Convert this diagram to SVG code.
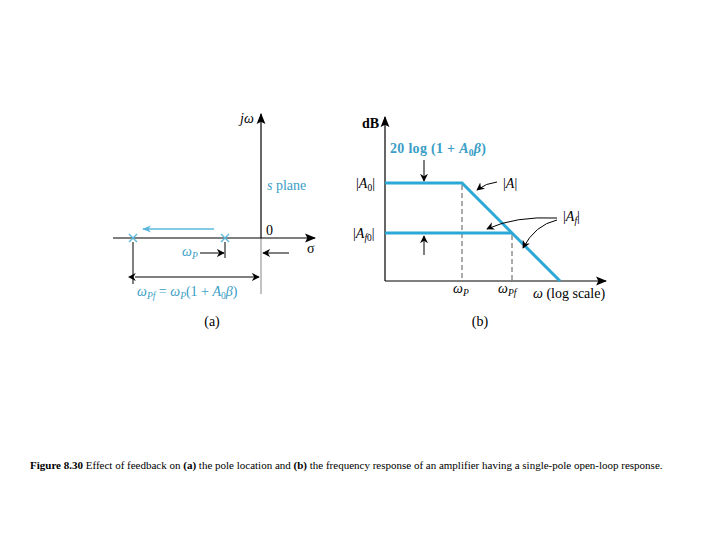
<svg xmlns="http://www.w3.org/2000/svg" width="720" height="540" viewBox="0 0 720 540">
<style>
.ax{stroke:#000;stroke-width:1.2;fill:none}
.gr{stroke:#999;stroke-width:1.2;fill:none}
.cy{stroke:#2ba8d6;stroke-width:3;fill:none}
.cyt{stroke:#5ab8dc;stroke-width:1.3;fill:none}
.th{stroke:#000;stroke-width:1;fill:none}
.ds{stroke:#444;stroke-width:0.9;stroke-dasharray:5,3;fill:none}
.t{font-family:"Liberation Serif","Times New Roman",serif;font-size:14px;fill:#000}
.c{fill:#3a9ec6}
.i{font-style:italic}
.s{font-size:9.5px}
.cap{font-family:"Liberation Serif","Times New Roman",serif;font-size:11px;fill:#000}
</style>
<defs>
<marker id="ah" viewBox="0 0 10 10" refX="9" refY="5" markerWidth="8" markerHeight="8" markerUnits="userSpaceOnUse" orient="auto"><path d="M0,0 L10,5 L0,10 L3,5 Z" fill="#000"/></marker>
<marker id="ahb" viewBox="0 0 10 10" refX="9" refY="5" markerWidth="11" markerHeight="11" markerUnits="userSpaceOnUse" orient="auto"><path d="M0,1 L10,5 L0,9 L2,5 Z" fill="#000"/></marker>
<marker id="ahs" viewBox="0 0 10 10" refX="1" refY="5" markerWidth="8" markerHeight="8" markerUnits="userSpaceOnUse" orient="auto-start-reverse"><path d="M0,0 L10,5 L0,10 L3,5 Z" fill="#000"/></marker>
<marker id="ahc" viewBox="0 0 10 10" refX="9" refY="5" markerWidth="9" markerHeight="9" markerUnits="userSpaceOnUse" orient="auto"><path d="M0,1 L10,5 L0,9 L3,5 Z" fill="#5ab8dc"/></marker>
</defs>

<g id="panel-a">
  <g id="axes-a">
    <line class="gr" x1="261" y1="238" x2="261" y2="294"/>
    <line class="ax" x1="261" y1="238" x2="261" y2="114" marker-end="url(#ahb)"/>
    <line class="ax" x1="113" y1="238" x2="315" y2="238" marker-end="url(#ahb)"/>
    <text class="t i" x="240" y="123" font-size="12">jω</text>
    <text class="t" x="266" y="235">0</text>
    <text class="t" x="307" y="253">σ</text>
    <text class="t c" x="267" y="190"><tspan class="i">s</tspan> plane</text>
  </g>
  <g id="poles">
    <path class="cyt" d="M129,234 L137,242 M137,234 L129,242"/>
    <path class="cyt" d="M221,234 L229,242 M229,234 L221,242"/>
  </g>
  <g id="connectors-a">
    <line class="cyt" x1="214" y1="229" x2="143" y2="229" marker-end="url(#ahc)"/>
    <line class="th" x1="225" y1="242" x2="225" y2="258"/>
    <line class="th" x1="200" y1="253" x2="224" y2="253" marker-end="url(#ah)"/>
    <line class="th" x1="289" y1="253" x2="263" y2="253" marker-end="url(#ah)"/>
    <line class="th" x1="133" y1="242" x2="133" y2="284"/>
    <line class="th" x1="135" y1="277" x2="259" y2="277" marker-start="url(#ahs)" marker-end="url(#ah)"/>
  </g>
  <text class="t c i" x="182" y="256">ω<tspan class="s" dy="3">P</tspan></text>
  <text class="t c" x="137" y="296"><tspan class="i">ω</tspan><tspan class="s i" dy="3">Pf</tspan><tspan dy="-3"> = </tspan><tspan class="i">ω</tspan><tspan class="s i" dy="3">P</tspan><tspan dy="-3">(1 + </tspan><tspan class="i">A</tspan><tspan class="s" dy="3">0</tspan><tspan class="i" dy="-3">β</tspan>)</text>
  <text class="t" x="212" y="326" text-anchor="middle">(a)</text>
</g>

<g id="panel-b">
  <g id="axes-b">
    <line class="ax" x1="385" y1="281" x2="385" y2="117" marker-end="url(#ahb)"/>
    <line class="ax" x1="385" y1="281" x2="606" y2="281" marker-end="url(#ahb)"/>
    <text class="t" x="362" y="128" font-weight="bold" font-size="13">dB</text>
    <text class="t" x="533" y="298"><tspan class="i">ω</tspan> (log scale)</text>
    <text class="t i" x="453" y="293">ω<tspan class="s" dy="3">P</tspan></text>
    <text class="t i" x="498" y="293">ω<tspan class="s" dy="3">Pf</tspan></text>
  </g>
  <g id="guides">
    <line class="ds" x1="462" y1="185" x2="462" y2="281"/>
    <line class="ds" x1="512" y1="235" x2="512" y2="281"/>
  </g>
  <g id="curve-A">
    <polyline class="cy" points="385,183 462,183 560,281"/>
  </g>
  <g id="curve-Af">
    <line class="cy" x1="385" y1="233" x2="512" y2="233"/>
  </g>
  <g id="labels-b">
    <text class="t" x="356" y="188">|<tspan class="i">A</tspan><tspan class="s" dy="3">0</tspan><tspan dy="-3">|</tspan></text>
    <text class="t" x="353" y="238">|<tspan class="i">A</tspan><tspan class="s i" dy="3">f</tspan><tspan class="s">0</tspan><tspan dy="-3">|</tspan></text>
    <text class="t" x="503" y="188">|<tspan class="i">A</tspan>|</text>
    <text class="t" x="563" y="221">|<tspan class="i">A</tspan><tspan class="s i" dy="3">f</tspan><tspan dy="-3">|</tspan></text>
    <text class="t c" x="390" y="153" font-weight="600" letter-spacing="0.3">20 log (1 + <tspan class="i">A</tspan><tspan class="s" dy="3">0</tspan><tspan class="i" dy="-3">β</tspan>)</text>
  </g>
  <g id="connectors-b">
    <line class="th" x1="424" y1="160" x2="424" y2="181" marker-end="url(#ah)"/>
    <line class="th" x1="424" y1="255" x2="424" y2="236" marker-end="url(#ah)"/>
    <path class="th" d="M497,182 Q486,183 477,190" marker-end="url(#ah)"/>
    <path class="th" d="M557,218 Q515,216 487,229" marker-end="url(#ah)"/>
    <path class="th" d="M557,220 Q535,225 523,248" marker-end="url(#ah)"/>
  </g>
  <text class="t" x="480" y="326" text-anchor="middle">(b)</text>
</g>

<text class="cap" x="30" y="469"><tspan font-weight="bold">Figure 8.30</tspan>  Effect of feedback on <tspan font-weight="bold">(a)</tspan> the pole location and <tspan font-weight="bold">(b)</tspan> the frequency response of an amplifier having a single-pole open-loop response.</text>
</svg>
